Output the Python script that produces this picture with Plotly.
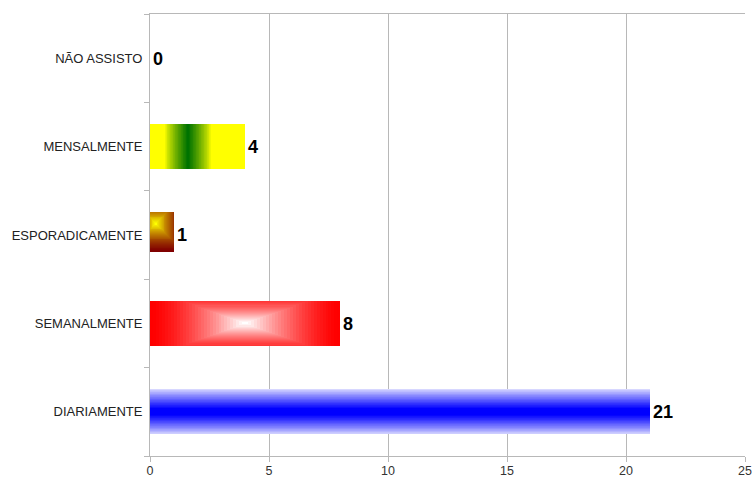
import plotly.graph_objects as go

categories = ["DIARIAMENTE", "SEMANALMENTE", "ESPORADICAMENTE", "MENSALMENTE", "NÃO ASSISTO"]
values = [21, 8, 1, 4, 0]
x_ticks = [0, 5, 10, 15, 20, 25]

BAR_W = 0.51
N = 32
PX_X = 595 / 25.0   # px per x unit
PX_Y = 442 / 5.0    # px per category


def lerp(c1, c2, t):
    return "rgb(%d,%d,%d)" % tuple(round(a + (b - a) * t) for a, b in zip(c1, c2))


fig = go.Figure()


def add_rect(cat, x0, x1, y0, y1, color):
    fig.add_trace(go.Bar(
        y=[cat], x=[x1 - x0], base=[x0], orientation="h",
        offset=y0, width=y1 - y0,
        marker=dict(color=color, line=dict(width=0)),
        hoverinfo="skip", showlegend=False, textposition="none"))


vals = dict(zip(categories, values))
H = BAR_W / 2

# DIARIAMENTE: axial vertical gradient (light edges, blue centre)
v = vals["DIARIAMENTE"]
for k in range(N):
    t = k / (N - 1)
    h = H * (1 - 0.85 * t)
    add_rect("DIARIAMENTE", 0, v, -h, h, lerp((215, 215, 255), (0, 0, 255), t ** 0.9))

# SEMANALMENTE: rectangular gradient, red edges -> white centre
v = vals["SEMANALMENTE"]
c = v / 2
for k in range(N):
    t = k / (N - 1)
    s = 1 - 0.97 * t
    hy = min(H, H * s * 1.5)
    add_rect("SEMANALMENTE", c - c * s, c + c * s, -hy, hy,
             lerp((255, 0, 0), (255, 255, 255), t ** 1.5))

# MENSALMENTE: horizontal axial gradient, yellow -> green centre line
v = vals["MENSALMENTE"]
add_rect("MENSALMENTE", 0, v, -H, H, "rgb(255,255,0)")
c = v * 0.4
for k in range(N):
    t = k / (N - 1)
    h = 0.95 * (1 - t) + 0.04
    add_rect("MENSALMENTE", max(0, c - h), min(v, c + h), -H, H,
             lerp((255, 255, 0), (0, 115, 0), t ** 0.8))

# ESPORADICAMENTE: radial gradient, dark red -> yellow highlight top-left
v = vals["ESPORADICAMENTE"]
cx = 0.24 * v
cy = H - 11 / PX_Y
R = 28
for k in range(N):
    t = k / (N - 1)
    r = R * (1 - t) + 0.6
    x0 = max(0, cx - r / PX_X)
    x1 = min(v, cx + r / PX_X)
    y0 = max(-H, cy - r / PX_Y)
    y1 = min(H, cy + r / PX_Y)
    add_rect("ESPORADICAMENTE", x0, x1, y0, y1,
             lerp((128, 0, 0), (255, 255, 0), t ** 1.5))

# value labels
fig.add_trace(go.Bar(
    y=categories, x=values, orientation="h", width=BAR_W,
    marker=dict(color="rgba(0,0,0,0)", line=dict(width=0)),
    text=[f"<b>{v}</b>" for v in values], textposition="outside",
    textfont=dict(size=18, color="#000000", family="Liberation Sans, Arial, sans-serif"),
    cliponaxis=False, hoverinfo="skip", showlegend=False))

grid = "#b8b8b8"
fig.update_layout(
    width=754, height=478,
    margin=dict(l=150, r=9, t=14, b=22, autoexpand=False),
    barmode="overlay", bargap=0,
    paper_bgcolor="white", plot_bgcolor="white",
    font=dict(family="Liberation Sans, Arial, sans-serif", color="#222222"),
    xaxis=dict(range=[0, 25], tickvals=x_ticks, showgrid=True, gridcolor=grid, gridwidth=1,
               showline=True, linecolor=grid, linewidth=1, mirror=True,
               ticks="outside", ticklen=5, tickcolor=grid, zeroline=False,
               ticklabelstandoff=-2,
               automargin=False, tickfont=dict(size=12.5, color="#333333")),
    yaxis=dict(type="category", categoryorder="array", categoryarray=categories,
               range=[-0.5, 4.5], showgrid=False, showline=True, linecolor=grid, linewidth=1,
               ticks="outside", tickson="boundaries", ticklen=5, tickcolor=grid,
               ticklabelstandoff=4,
               automargin=False, tickfont=dict(size=13, color="#222222")),
)

fig.write_html(
    "out.html",
    config={"displayModeBar": False},
    post_script="document.body.style.margin='0';document.body.style.overflow='hidden';",
)
